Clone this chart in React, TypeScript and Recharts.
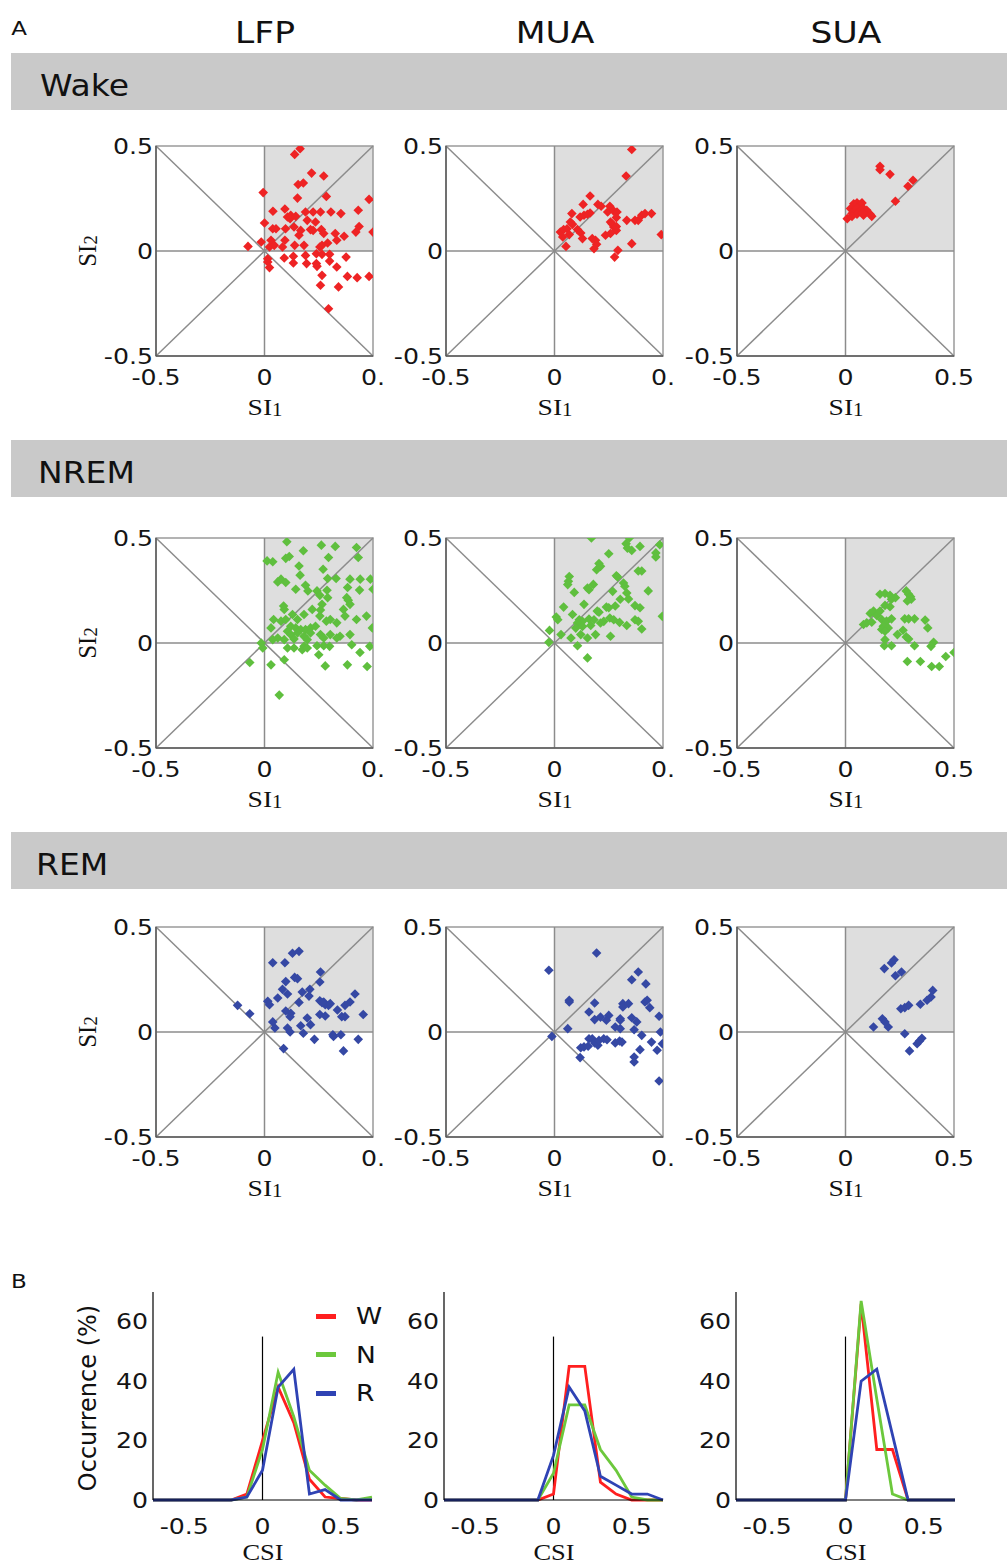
import React from "react";
import {
  ScatterChart,
  Scatter,
  XAxis,
  YAxis,
  ReferenceArea,
  ReferenceLine,
  LineChart,
  Line,
} from "recharts";

const columns = ["LFP", "MUA", "SUA"];
const states = ["Wake", "NREM", "REM"];
const stateColors = ["#ee2324", "#5fbf3e", "#3548a4"];
const siTicks = [-0.5, 0, 0.5];

type Pt = [number, number];

const wakeLfp: Pt[] = [
  [0.164, 0.487], [0.139, 0.46], [0.217, 0.371], [0.273, 0.357], [0.155, 0.317], [0.179, 0.324],
  [-0.006, 0.278], [0.152, 0.252], [0.285, 0.26], [0.482, 0.246], [0.039, 0.189], [0.094, 0.2],
  [0.106, 0.162], [0.121, 0.17], [0.118, 0.154], [0.144, 0.165], [0.189, 0.186], [0.224, 0.186],
  [0.258, 0.186], [0.306, 0.186], [0.352, 0.178], [0.432, 0.194], [0, 0.133], [0.038, 0.106],
  [0.053, 0.106], [0.097, 0.106], [0.136, 0.114], [0.167, 0.098], [0.159, 0.075], [0.197, 0.146],
  [0.235, 0.138], [0.212, 0.102], [0.224, 0.098], [0.262, 0.102], [0.273, 0.083], [0.326, 0.083],
  [0.367, 0.07], [0.436, 0.117], [0.421, 0.09], [0.5, 0.09], [-0.015, 0.043], [0.03, 0.051],
  [-0.076, 0.022], [0.023, 0.019], [0.045, 0.027], [0.083, 0.019], [0.094, 0.051], [0.139, 0.027],
  [0.182, 0.027], [0.255, 0.019], [0.265, 0.027], [0.291, 0.038], [0.333, 0.051], [0.015, -0.037],
  [0.015, -0.052], [0.023, -0.079], [0.091, -0.033], [0.133, -0.025], [0.133, -0.057], [0.189, -0.021],
  [0.194, -0.06], [0.239, -0.013], [0.239, -0.06], [0.242, -0.073], [0.265, -0.016], [0.3, -0.016],
  [0.3, -0.048], [0.333, -0.076], [0.376, -0.029], [0.265, -0.116], [0.258, -0.163], [0.341, -0.171],
  [0.382, -0.121], [0.427, -0.127], [0.482, -0.121], [0.295, -0.275],
];

const wakeMua: Pt[] = [
  [0.356, 0.483], [0.33, 0.357], [0.164, 0.262], [0.132, 0.222], [0.2, 0.222], [0.215, 0.213],
  [0.255, 0.213], [0.08, 0.178], [0.118, 0.162], [0.136, 0.17], [0.164, 0.181], [0.245, 0.186],
  [0.273, 0.19], [0.288, 0.186], [0.285, 0.159], [0.027, 0.09], [0.042, 0.102], [0.058, 0.106],
  [0.073, 0.138], [0.083, 0.127], [0.038, 0.067], [0.068, 0.078], [0.106, 0.102], [0.121, 0.086],
  [0.129, 0.059], [0.152, 0.175], [0.189, 0.051], [0.194, 0.032], [0.174, 0.059], [0.235, 0.075],
  [0.258, 0.138], [0.265, 0.13], [0.273, 0.114], [0.28, 0.111], [0.285, 0.098], [0.285, 0.117],
  [0.333, 0.146], [0.371, 0.146], [0.386, 0.146], [0.402, 0.17], [0.417, 0.178], [0.447, 0.178],
  [0.356, 0.035], [0.492, 0.078], [0.053, 0.022], [0.182, 0.011], [0.277, -0.029], [0.292, 0.003],
  [0.258, 0.083],
];

const wakeSua: Pt[] = [
  [0.159, 0.403], [0.159, 0.387], [0.205, 0.365], [0.311, 0.337], [0.288, 0.308], [0.23, 0.237],
  [0.038, 0.225], [0.053, 0.229], [0.068, 0.222], [0.076, 0.229], [0.023, 0.202], [0.038, 0.194],
  [0.053, 0.202], [0.068, 0.194], [0.083, 0.202], [0.098, 0.194], [0.03, 0.178], [0.053, 0.175],
  [0.083, 0.17], [0.114, 0.175], [0.008, 0.154], [0.03, 0.165], [0.121, 0.165], [0.079, 0.181],
];

const nremLfp: Pt[] = [
  [0.103, 0.482], [0.179, 0.439], [0.262, 0.466], [0.326, 0.46], [0.424, 0.455], [0.432, 0.407],
  [0.012, 0.391], [0.038, 0.387], [0.098, 0.403], [0.114, 0.412], [0.295, 0.407], [0.159, 0.367],
  [0.27, 0.351], [0.33, 0.307], [0.291, 0.307], [0.164, 0.323], [0.061, 0.291], [0.076, 0.304],
  [0.098, 0.288], [0.144, 0.256], [0.189, 0.275], [0.2, 0.248], [0.242, 0.248], [0.288, 0.251],
  [0.394, 0.304], [0.441, 0.304], [0.488, 0.304], [0.383, 0.264], [0.438, 0.252], [0.5, 0.256],
  [0.291, 0.216], [0.255, 0.227], [0.379, 0.216], [0.386, 0.204], [0.394, 0.184], [0.088, 0.176],
  [0.091, 0.16], [0.03, 0.072], [0.042, 0.112], [0.076, 0.104], [0.098, 0.112], [0.129, 0.136],
  [0.152, 0.112], [0.182, 0.136], [0.22, 0.16], [0.265, 0.184], [0.258, 0.157], [0.255, 0.128],
  [0.285, 0.104], [0.303, 0.112], [0.333, 0.096], [0.364, 0.16], [0.371, 0.128], [0.424, 0.112],
  [0.47, 0.128], [0.497, 0.072], [0.121, 0.08], [0.144, 0.072], [0.167, 0.064], [0.189, 0.064],
  [0.212, 0.072], [0.235, 0.08], [0.106, 0.056], [0.121, 0.04], [0.152, 0.048], [0.182, 0.032],
  [0.212, 0.048], [0.258, 0.04], [0.303, 0.04], [0.348, 0.032], [0.394, 0.04], [0.038, 0.016],
  [0.061, 0.024], [0.091, 0.016], [0.136, 0.019], [0.197, 0.016], [0.273, 0.024], [0.333, 0.024],
  [-0.015, 0], [-0.008, -0.024], [0.106, -0.024], [0.136, -0.024], [0.174, -0.032], [0.182, -0.016],
  [0.197, -0.024], [0.242, -0.013], [0.273, -0.013], [0.3, -0.016], [0.402, -0.008], [0.485, -0.016],
  [0.44, -0.045], [0.25, -0.056], [-0.068, -0.093], [0.03, -0.104], [0.091, -0.08], [0.28, -0.109],
  [0.382, -0.104], [0.473, -0.112], [0.068, -0.248],
];

const nremMua: Pt[] = [
  [0.17, 0.5], [0.345, 0.5], [0.33, 0.473], [0.336, 0.452], [0.356, 0.441], [0.394, 0.46],
  [0.485, 0.468], [0.467, 0.429], [0.467, 0.41], [0.25, 0.425], [0.205, 0.378], [0.194, 0.349],
  [0.212, 0.365], [0.285, 0.32], [0.291, 0.314], [0.068, 0.317], [0.064, 0.294], [0.061, 0.278],
  [0.152, 0.262], [0.159, 0.254], [0.091, 0.241], [0.179, 0.279], [0.318, 0.286], [0.324, 0.27],
  [0.386, 0.343], [0.402, 0.343], [0.432, 0.248], [0.333, 0.238], [0.341, 0.21], [0.268, 0.246],
  [0.042, 0.171], [0.136, 0.184], [0.197, 0.152], [0.205, 0.147], [0.239, 0.171], [0.25, 0.168],
  [0.28, 0.176], [0.303, 0.208], [0.371, 0.178], [0.394, 0.168], [0.008, 0.124], [0.015, 0.111],
  [0.083, 0.136], [0.114, 0.111], [0.129, 0.103], [0.106, 0.095], [0.159, 0.114], [0.182, 0.111],
  [0.212, 0.095], [0.227, 0.103], [0.255, 0.119], [0.273, 0.111], [0.3, 0.098], [0.333, 0.083],
  [0.371, 0.111], [0.386, 0.103], [0.402, 0.067], [0.497, 0.127], [0.098, 0.071], [0.129, 0.079],
  [0.167, 0.083], [0.258, 0.032], [0.03, 0.04], [0.076, 0.024], [0.121, 0.04], [0.152, 0.024],
  [0.189, 0.04], [-0.023, 0.06], [-0.026, 0.003], [0.106, -0.013], [0.152, -0.071],
];

const nremSua: Pt[] = [
  [0.159, 0.232], [0.182, 0.236], [0.205, 0.227], [0.212, 0.208], [0.23, 0.216], [0.28, 0.248],
  [0.291, 0.232], [0.3, 0.22], [0.303, 0.208], [0.285, 0.2], [0.205, 0.173], [0.182, 0.179],
  [0.114, 0.141], [0.129, 0.152], [0.144, 0.131], [0.159, 0.152], [0.083, 0.088], [0.098, 0.096],
  [0.121, 0.099], [0.167, 0.112], [0.189, 0.104], [0.212, 0.115], [0.273, 0.115], [0.291, 0.115],
  [0.318, 0.115], [0.367, 0.109], [0.379, 0.072], [0.174, 0.08], [0.197, 0.072], [0.167, 0.064],
  [0.182, 0.056], [0.239, 0.04], [0.265, 0.061], [0.28, 0.029], [0.291, 0.019], [0.182, 0.016],
  [0.179, -0.013], [0.212, -0.013], [0.318, -0.013], [0.406, 0.003], [0.394, -0.016], [0.285, -0.088],
  [0.345, -0.088], [0.397, -0.112], [0.432, -0.112], [0.462, -0.064], [0.5, -0.045],
];

const remLfp: Pt[] = [
  [0.129, 0.375], [0.159, 0.384], [0.038, 0.33], [0.094, 0.33], [0.258, 0.286], [0.139, 0.26],
  [0.152, 0.254], [0.098, 0.24], [0.083, 0.203], [0.174, 0.19], [0.209, 0.203], [0.205, 0.171],
  [0.106, 0.181], [0.015, 0.146], [0.023, 0.13], [0.061, 0.162], [0.159, 0.141], [0.255, 0.238],
  [0.417, 0.181], [0.255, 0.149], [0.273, 0.143], [0.28, 0.13], [0.295, 0.127], [0.303, 0.135],
  [0.265, 0.14], [0.394, 0.143], [0.371, 0.127], [0.336, 0.105], [-0.124, 0.127], [-0.068, 0.087],
  [0.038, 0.048], [0.098, 0.1], [0.121, 0.089], [0.118, 0.073], [0.197, 0.067], [0.212, 0.035],
  [0.255, 0.083], [0.28, 0.076], [0.356, 0.073], [0.371, 0.073], [0.455, 0.083], [0.048, 0.019],
  [0.106, 0.019], [0.118, 0], [0.167, 0.03], [0.179, -0.006], [0.23, -0.035], [0.315, -0.013],
  [0.318, -0.021], [0.352, -0.013], [0.432, -0.035], [0.364, -0.09], [0.088, -0.079],
];

const remMua: Pt[] = [
  [-0.026, 0.294], [0.194, 0.376], [0.386, 0.286], [0.356, 0.249], [0.421, 0.229], [0.068, 0.151],
  [0.068, 0.143], [0.185, 0.138], [0.315, 0.135], [0.315, 0.119], [0.341, 0.135], [0.417, 0.143],
  [0.427, 0.151], [0.439, 0.116], [0.159, 0.095], [0.185, 0.059], [0.212, 0.071], [0.25, 0.079],
  [0.239, 0.056], [0.303, 0.063], [0.303, 0.056], [0.356, 0.068], [0.379, 0.048], [0.482, 0.075],
  [0.061, 0.016], [0.28, 0.024], [0.303, 0.016], [0.367, 0.011], [0.488, 0], [-0.012, -0.021],
  [0.121, -0.075], [0.136, -0.071], [0.155, -0.068], [0.159, -0.032], [0.174, -0.032], [0.185, -0.052],
  [0.2, -0.063], [0.205, -0.04], [0.227, -0.032], [0.242, -0.037], [0.28, -0.052], [0.3, -0.043],
  [0.311, -0.048], [0.402, -0.016], [0.394, -0.084], [0.447, -0.048], [0.473, -0.087], [0.497, -0.056],
  [0.367, -0.119], [0.367, -0.143], [0.118, -0.122], [0.482, -0.233],
];

const remSua: Pt[] = [
  [0.179, 0.302], [0.212, 0.329], [0.224, 0.344], [0.23, 0.268], [0.258, 0.286], [0.255, 0.111],
  [0.273, 0.116], [0.291, 0.127], [0.345, 0.132], [0.376, 0.151], [0.394, 0.167], [0.402, 0.198],
  [0.129, 0.024], [0.17, 0.063], [0.182, 0.048], [0.197, 0.024], [0.273, -0.008], [0.295, -0.09],
  [0.33, -0.056], [0.341, -0.043], [0.352, -0.03],
];

const scatterGrid: Pt[][][] = [
  [wakeLfp, wakeMua, wakeSua],
  [nremLfp, nremMua, nremSua],
  [remLfp, remMua, remSua],
];

// CSI histograms (B)
const csiBins = [-0.7, -0.6, -0.5, -0.4, -0.3, -0.2, -0.1, 0, 0.1, 0.2, 0.3, 0.4, 0.5, 0.6, 0.7];
const csiTicks = [-0.5, 0, 0.5];
const occTicks = [0, 20, 40, 60];
const lineNames = ["W", "N", "R"];
const lineColors = ["#ff1f1f", "#6cc83c", "#2f43b4"];

const lfpW = [0, 0, 0, 0, 0, 0, 2, 20, 38, 26, 7, 1, 0.5, 0, 0];
const lfpN = [0, 0, 0, 0, 0, 0, 1, 17, 43, 28, 10, 5, 0.5, 0, 1];
const lfpR = [0, 0, 0, 0, 0, 0, 1, 10, 38, 44, 2, 3.5, 0, 0, 0];

const muaW = [0, 0, 0, 0, 0, 0, 0, 2, 45, 45, 6, 2, 0, 0, 0];
const muaN = [0, 0, 0, 0, 0, 0, 0, 9, 32, 32, 17, 10, 1, 0, 0];
const muaR = [0, 0, 0, 0, 0, 0, 0, 15, 38, 30, 8, 5, 2, 2, 0];

const suaW = [0, 0, 0, 0, 0, 0, 0, 0, 66, 17, 17, 0, 0, 0, 0];
const suaN = [0, 0, 0, 0, 0, 0, 0, 0, 67, 34, 2, 0, 0, 0, 0];
const suaR = [0, 0, 0, 0, 0, 0, 0, 0, 40, 44, 22, 0, 0, 0, 0];

const histSeries = [
  [lfpW, lfpN, lfpR],
  [muaW, muaN, muaR],
  [suaW, suaN, suaR],
];

// layout
const COL_X = [156, 446, 737];
const ROW_Y = [146, 538, 927];
const PLOT_W = 217;
const PLOT_H = 210;
const BAR_Y = [53, 440, 832];
const HIST_X = [153, 444, 736];
const HIST_Y = 1292;
const HIST_W = 219;
const HIST_H = 208;
const TOP_PAD = 22;

const SANS = "'DejaVu Sans', Verdana, sans-serif";
const SERIF = "'Liberation Serif', 'Times New Roman', serif";
const STRETCH = 1.2;

function makeXTick(fmt: (v: number) => string, dy: number, size: number) {
  return (props: any) => {
    const { x, y, payload } = props;
    return (
      <g transform={`translate(${x},${y})`}>
        <text transform={`scale(${STRETCH},1)`} textAnchor="middle" dy={dy} fontFamily={SANS} fontSize={size} fill="#151515">
          {fmt(payload.value)}
        </text>
      </g>
    );
  };
}

function makeYTick(dx: number, size: number) {
  return (props: any) => {
    const { x, y, payload } = props;
    return (
      <g transform={`translate(${x + dx},${y})`}>
        <text transform={`scale(${STRETCH},1)`} textAnchor="end" dy={size * 0.36} fontFamily={SANS} fontSize={size} fill="#151515">
          {String(payload.value)}
        </text>
      </g>
    );
  };
}

function diamond(color: string) {
  return (props: any) => {
    const { cx, cy } = props;
    const r = 4.8;
    return <path d={`M${cx},${cy - r}L${cx + r},${cy}L${cx},${cy + r}L${cx - r},${cy}Z`} fill={color} />;
  };
}

function Txt({ cx, cy, size, family = SANS, rotate = 0, children }: any) {
  return (
    <div
      style={{
        position: "absolute",
        left: cx,
        top: cy,
        transform: `translate(-50%,-50%) rotate(${rotate}deg) scaleX(${rotate ? 1 : 1.15})`,
        fontFamily: family,
        fontSize: size,
        lineHeight: 1,
        whiteSpace: "nowrap",
        color: "#111",
      }}
    >
      {children}
    </div>
  );
}

function SiLabel({ n }: { n: string }) {
  return (
    <span>
      SI<span style={{ fontSize: "0.75em", verticalAlign: "-0.05em" }}>{n}</span>
    </span>
  );
}

function ScatterPanel({ points, color, col, row }: { points: Pt[]; color: string; col: number; row: number }) {
  const data = points.map(([x, y]) => ({ x, y }));
  const fullTick = col === 2;
  const fmtX = (v: number) => (v === 0.5 ? (fullTick ? "0.5" : "0.") : String(v));
  return (
    <div style={{ position: "absolute", left: COL_X[col] - 80, top: ROW_Y[row] - TOP_PAD }}>
      <ScatterChart
        width={80 + PLOT_W + 20}
        height={TOP_PAD + PLOT_H + 60}
        margin={{ top: TOP_PAD, right: 20, bottom: 0, left: 20 }}
      >
        <XAxis
          type="number"
          dataKey="x"
          domain={[-0.5, 0.5]}
          ticks={siTicks}
          allowDataOverflow
          height={60}
          tickLine={false}
          axisLine={{ stroke: "#5a5a5a", strokeWidth: 1.5 }}
          tick={makeXTick(fmtX, 21, 21)}
        />
        <YAxis
          type="number"
          dataKey="y"
          domain={[-0.5, 0.5]}
          ticks={siTicks}
          allowDataOverflow
          width={60}
          tickLine={false}
          axisLine={{ stroke: "#5a5a5a", strokeWidth: 1.5 }}
          tick={makeYTick(5, 21)}
        />
        <ReferenceArea x1={0} x2={0.5} y1={0} y2={0.5} fill="#dedede" fillOpacity={1} stroke="none" />
        <ReferenceArea x1={-0.5} x2={0.5} y1={-0.5} y2={0.5} fill="none" fillOpacity={0} stroke="#9a9a9a" strokeWidth={1.5} />
        <ReferenceLine x={0} stroke="#8c8c8c" strokeWidth={1.5} />
        <ReferenceLine y={0} stroke="#8c8c8c" strokeWidth={1.5} />
        <ReferenceLine segment={[{ x: -0.5, y: -0.5 }, { x: 0.5, y: 0.5 }]} stroke="#8c8c8c" strokeWidth={1.5} />
        <ReferenceLine segment={[{ x: -0.5, y: 0.5 }, { x: 0.5, y: -0.5 }]} stroke="#8c8c8c" strokeWidth={1.5} />
        <Scatter data={data} shape={diamond(color)} isAnimationActive={false} />
      </ScatterChart>
    </div>
  );
}

function HistPanel({ col }: { col: number }) {
  const series = histSeries[col];
  const data = csiBins.map((csi, i) => ({ csi, W: series[0][i], N: series[1][i], R: series[2][i] }));
  return (
    <div style={{ position: "absolute", left: HIST_X[col] - 80, top: HIST_Y - 10 }}>
      <LineChart width={80 + HIST_W + 20} height={10 + HIST_H + 60} data={data} margin={{ top: 10, right: 20, bottom: 0, left: 20 }}>
        <XAxis
          type="number"
          dataKey="csi"
          domain={[-0.7, 0.7]}
          ticks={csiTicks}
          height={60}
          tickLine={false}
          axisLine={{ stroke: "#000", strokeWidth: 1.2 }}
          tick={makeXTick((v) => String(v), 26, 21)}
        />
        <YAxis
          type="number"
          domain={[0, 70]}
          ticks={occTicks}
          width={60}
          tickLine={false}
          axisLine={{ stroke: "#000", strokeWidth: 1.2 }}
          tick={makeYTick(3, 21)}
        />
        <ReferenceLine segment={[{ x: 0, y: 0 }, { x: 0, y: 55 }]} stroke="#000" strokeWidth={1.2} />
        {lineNames.map((name, i) => (
          <Line
            key={name}
            type="linear"
            dataKey={name}
            stroke={lineColors[i]}
            strokeWidth={2.8}
            dot={false}
            isAnimationActive={false}
          />
        ))}
      </LineChart>
    </div>
  );
}

export default function App() {
  return (
    <div style={{ position: "absolute", left: 0, top: 0, width: 1007, height: 1565, background: "#fff", overflow: "hidden" }}>
      <Txt cx={19} cy={28} size={20}>A</Txt>
      {columns.map((c, i) => (
        <Txt key={c} cx={COL_X[i] + PLOT_W / 2} cy={33} size={30}>
          {c}
        </Txt>
      ))}
      {states.map((s, r) => (
        <div key={s} style={{ position: "absolute", left: 11, top: BAR_Y[r], width: 996, height: 57, background: "#c9c9c9" }}>
          <div
            style={{
              position: "absolute",
              left: r === 0 ? 29 : r === 1 ? 27 : 25,
              top: 33,
              transform: "translateY(-50%) scaleX(1.1)",
              transformOrigin: "left center",
              fontFamily: SANS,
              fontSize: 30,
              lineHeight: 1,
              color: "#111",
            }}
          >
            {s}
          </div>
        </div>
      ))}
      {scatterGrid.map((rowPts, r) =>
        rowPts.map((pts, c) => <ScatterPanel key={`${r}-${c}`} points={pts} color={stateColors[r]} col={c} row={r} />)
      )}
      {ROW_Y.map((y, r) => (
        <React.Fragment key={`lab-${r}`}>
          <Txt cx={88} cy={y + PLOT_H / 2} size={25} family={SERIF} rotate={-90}>
            <SiLabel n="2" />
          </Txt>
          {COL_X.map((x, c) => (
            <Txt key={`si1-${r}-${c}`} cx={x + PLOT_W / 2} cy={y + PLOT_H + 51} size={24} family={SERIF}>
              <SiLabel n="1" />
            </Txt>
          ))}
        </React.Fragment>
      ))}
      <Txt cx={19} cy={1281} size={20}>B</Txt>
      {HIST_X.map((_, c) => (
        <HistPanel key={`h-${c}`} col={c} />
      ))}
      <Txt cx={88} cy={1398} size={24} rotate={-90}>
        Occurrence (%)
      </Txt>
      {HIST_X.map((x, c) => (
        <Txt key={`csi-${c}`} cx={x + HIST_W / 2} cy={1552} size={23} family={SERIF}>
          CSI
        </Txt>
      ))}
      <div style={{ position: "absolute", left: 316, top: 1297 }}>
        {lineNames.map((n, i) => (
          <div key={n} style={{ display: "flex", alignItems: "center", height: 38.5 }}>
            <span style={{ display: "inline-block", width: 20, height: 5, background: lineColors[i] }} />
            <span
              style={{
                marginLeft: 20,
                fontFamily: SANS,
                fontSize: 23,
                color: "#111",
                display: "inline-block",
                transform: "scaleX(1.15)",
                transformOrigin: "left center",
              }}
            >
              {n}
            </span>
          </div>
        ))}
      </div>
    </div>
  );
}
